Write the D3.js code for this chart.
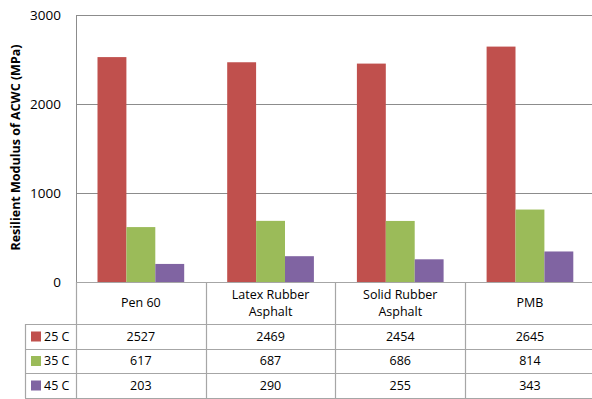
<!DOCTYPE html>
<html>
<head>
<meta charset="utf-8">
<script src="https://cdn.jsdelivr.net/npm/d3@7"></script>
<style>
  body { margin: 0; background: #fff; }
  svg { display: block; font-family: "Open Sans", Lato, sans-serif; }
</style>
</head>
<body>
<script>
// data
var categories = ["Pen 60", "Latex Rubber Asphalt", "Solid Rubber Asphalt", "PMB"];
var catLines = [["Pen 60"], ["Latex Rubber", "Asphalt"], ["Solid Rubber", "Asphalt"], ["PMB"]];
var seriesNames = ["25 C", "35 C", "45 C"];
var temp25 = [2527, 2469, 2454, 2645];
var temp35 = [617, 687, 686, 814];
var temp45 = [203, 290, 255, 343];
var yTicks = [0, 1000, 2000, 3000];
var colors = ["#C0504D", "#9BBB59", "#8064A2"];

var series = [temp25, temp35, temp45];

var width = 592, height = 399;
var plotLeft = 76, plotTop = 15, plotBottom = 282;
var catWidth = 129.7;
var tableLeft = 25;
var headerBottom = 324;
var rowLines = [324, 349, 373, 398];

var svg = d3.select("body").append("svg")
    .attr("width", width)
    .attr("height", height);

// scales
var x = d3.scaleBand()
    .domain(categories)
    .range([plotLeft, plotLeft + catWidth * categories.length])
    .padding(0);

var xInner = d3.scaleBand()
    .domain(seriesNames)
    .range([21.5, catWidth - 21.5])
    .padding(0);

var y = d3.scaleLinear().domain([0, 3000]).range([plotBottom, plotTop]);

// gridlines
svg.append("g").selectAll("line").data(yTicks).enter().append("line")
    .attr("x1", plotLeft).attr("x2", width)
    .attr("y1", function(d) { return Math.round(y(d)) + 0.5; })
    .attr("y2", function(d) { return Math.round(y(d)) + 0.5; })
    .attr("stroke", "#8c8c8c")
    .attr("stroke-width", 1);

// y axis line
svg.append("line")
    .attr("x1", plotLeft + 0.5).attr("x2", plotLeft + 0.5)
    .attr("y1", plotTop).attr("y2", plotBottom)
    .attr("stroke", "#8c8c8c");

// tick labels
svg.append("g").selectAll("text").data(yTicks).enter().append("text")
    .attr("x", 61)
    .attr("y", function(d) { return y(d); })
    .attr("dy", "0.35em")
    .attr("text-anchor", "end")
    .attr("font-size", 13.5)
    .attr("fill", "#000")
    .text(function(d) { return d; });

// y axis title
svg.append("text")
    .attr("transform", "translate(20," + 147.5 + ")rotate(-90)")
    .attr("text-anchor", "middle")
    .attr("font-size", 12.5)
    .attr("font-weight", "bold")
    .text("Resilient Modulus of ACWC (MPa)");

// bars
series.forEach(function(vals, si) {
  svg.append("g").selectAll("rect").data(vals).enter().append("rect")
      .attr("x", function(d, i) { return x(categories[i]) + xInner(seriesNames[si]); })
      .attr("y", function(d) { return y(d); })
      .attr("width", xInner.bandwidth())
      .attr("height", function(d) { return y(0) - y(d); })
      .attr("fill", colors[si]);
});

// data table
var table = svg.append("g").attr("stroke", "#a6a6a6").attr("stroke-width", 1.2);

// horizontal lines
table.append("line")
    .attr("x1", plotLeft).attr("x2", width)
    .attr("y1", plotBottom + 0.5).attr("y2", plotBottom + 0.5);
rowLines.forEach(function(ry) {
  table.append("line")
      .attr("x1", tableLeft).attr("x2", width)
      .attr("y1", ry + 0.5).attr("y2", ry + 0.5);
});

// vertical lines
table.append("line")
    .attr("x1", tableLeft + 0.5).attr("x2", tableLeft + 0.5)
    .attr("y1", headerBottom).attr("y2", rowLines[3]);
categories.forEach(function(c) {
  var xx = Math.round(x(c)) + 0.5;
  table.append("line")
      .attr("x1", xx).attr("x2", xx)
      .attr("y1", plotBottom).attr("y2", rowLines[3]);
});

// header labels
catLines.forEach(function(lines, i) {
  var cx = x(categories[i]) + x.bandwidth() / 2;
  var t = svg.append("text")
      .attr("text-anchor", "middle")
      .attr("font-size", 12.5)
      .attr("fill", "#000");
  var mid = (plotBottom + headerBottom) / 2;
  lines.forEach(function(l, li) {
    t.append("tspan")
        .attr("x", cx)
        .attr("y", mid + (li - (lines.length - 1) / 2) * 17)
        .attr("dy", "0.35em")
        .text(l);
  });
});

// rows
series.forEach(function(vals, si) {
  var top = rowLines[si], bot = rowLines[si + 1];
  var mid = (top + bot) / 2;
  svg.append("rect")
      .attr("x", 31).attr("y", mid - 5)
      .attr("width", 10).attr("height", 10)
      .attr("fill", colors[si]);
  svg.append("text")
      .attr("x", 44).attr("y", mid).attr("dy", "0.35em")
      .attr("font-size", 12.5)
      .text(seriesNames[si]);
  svg.append("g").selectAll("text").data(vals).enter().append("text")
      .attr("x", function(d, i) { return x(categories[i]) + x.bandwidth() / 2; })
      .attr("y", mid).attr("dy", "0.35em")
      .attr("text-anchor", "middle")
      .attr("font-size", 12.5)
      .text(function(d) { return d; });
});
</script>
</body>
</html>
